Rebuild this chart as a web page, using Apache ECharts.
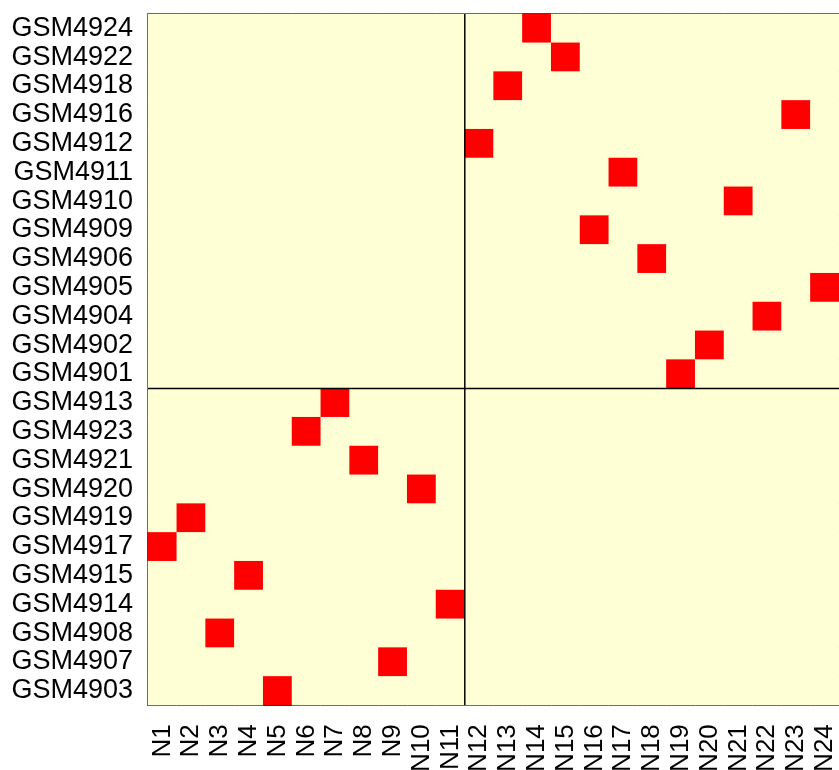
<!DOCTYPE html>
<html>
<head>
<meta charset="utf-8">
<script src="https://cdn.jsdelivr.net/npm/echarts@6/dist/echarts.min.js"></script>
<style>html,body{margin:0;padding:0;background:#fff;}#c{width:839px;height:770px;}</style>
</head>
<body>
<div id="c"></div>
<script>
// Rows listed top to bottom
const rows = ["GSM4924","GSM4922","GSM4918","GSM4916","GSM4912","GSM4911","GSM4910","GSM4909","GSM4906","GSM4905","GSM4904","GSM4902","GSM4901",
  "GSM4913","GSM4923","GSM4921","GSM4920","GSM4919","GSM4917","GSM4915","GSM4914","GSM4908","GSM4907","GSM4903"];
const cols = ["N1","N2","N3","N4","N5","N6","N7","N8","N9","N10","N11","N12","N13","N14","N15","N16","N17","N18","N19","N20","N21","N22","N23","N24"];
// Column marked (red) for each row, same order as rows
const marked = ["N14","N15","N13","N23","N12","N17","N21","N16","N18","N24","N22","N20","N19",
  "N7","N6","N8","N10","N2","N1","N4","N11","N3","N9","N5"];
// Group boundaries (in cell units): vertical after column 11, horizontal after 11 rows from bottom
const vSplit = 11;
const hSplit = 11;

const data = [];
rows.forEach((r, i) => {
  cols.forEach((c, j) => {
    data.push([j, i, marked[i] === c ? 1 : 0]);
  });
});

const chart = echarts.init(document.getElementById('c'));
chart.setOption({
  animation: false,
  backgroundColor: '#fff',
  grid: { left: 148, top: 14, width: 691.2, height: 691.2, show: true, borderColor: '#000', borderWidth: 1.5, backgroundColor: '#FFFFD5',
    containLabel: false, outerBoundsMode: 'none' },
  xAxis: [
    { type: 'category', data: cols, position: 'bottom',
      axisLine: { show: false }, axisTick: { show: false }, splitLine: { show: false },
      axisLabel: { rotate: 90, interval: 0, margin: 19, fontSize: 26, color: '#000', fontFamily: 'Liberation Sans, Arial, sans-serif' } },
    { type: 'value', min: 0, max: 24, show: false }
  ],
  yAxis: [
    { type: 'category', data: rows, inverse: true,
      axisLine: { show: false }, axisTick: { show: false }, splitLine: { show: false },
      axisLabel: { interval: 0, margin: 15, fontSize: 27, color: '#000', fontFamily: 'Liberation Sans, Arial, sans-serif' } },
    { type: 'value', min: 0, max: 24, show: false }
  ],
  visualMap: { show: false, type: 'piecewise', dimension: 2, seriesIndex: 0,
    pieces: [{ value: 0, color: '#FFFFD5' }, { value: 1, color: '#FF0000' }] },
  series: [
    { type: 'heatmap', data: data, xAxisIndex: 0, yAxisIndex: 0, itemStyle: { borderWidth: 0 } },
    { type: 'line', xAxisIndex: 1, yAxisIndex: 1, data: [[vSplit, 0], [vSplit, 24]], symbol: 'none',
      lineStyle: { color: '#000', width: 1.5 } },
    { type: 'line', xAxisIndex: 1, yAxisIndex: 1, data: [[0, hSplit], [24, hSplit]], symbol: 'none',
      lineStyle: { color: '#000', width: 1.5 } }
  ]
});
</script>
</body>
</html>
